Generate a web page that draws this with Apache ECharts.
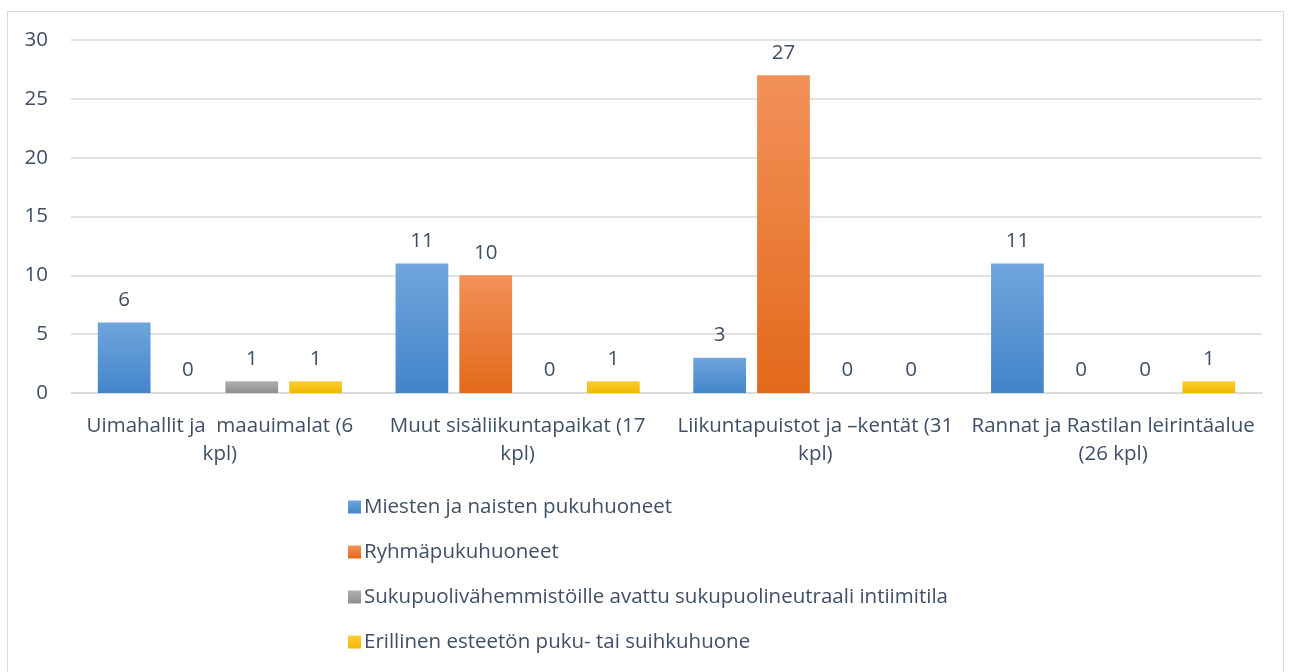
<!DOCTYPE html>
<html>
<head>
<meta charset="utf-8">
<script src="https://cdn.jsdelivr.net/npm/echarts@6/dist/echarts.min.js"></script>
<style>
  html, body { margin: 0; padding: 0; background: #fff; }
  #frame { position: absolute; left: 7px; top: 11px; width: 1277px; height: 670px; border: 1px solid #d9d9d9; box-sizing: border-box; }
  #chart { position: absolute; left: 0; top: 0; width: 1291px; height: 672px; }
</style>
</head>
<body>
<div id="frame"></div>
<div id="chart"></div>
<script>
const categories = [
  'Uimahallit ja  maauimalat (6\nkpl)',
  'Muut sisäliikuntapaikat (17\nkpl)',
  'Liikuntapuistot ja –kentät (31\nkpl)',
  'Rannat ja Rastilan leirintäalue\n(26 kpl)'
]
const seriesNames = [
  'Miesten ja naisten pukuhuoneet',
  'Ryhmäpukuhuoneet',
  'Sukupuolivähemmistöille avattu sukupuolineutraali intiimitila',
  'Erillinen esteetön puku- tai suihkuhuone'
]
const miesten = [6, 11, 3, 11]
const ryhma = [0, 10, 27, 0]
const sukupuoli = [1, 0, 0, 0]
const erillinen = [1, 1, 0, 1]
const yTicks = [0, 5, 10, 15, 20, 25, 30]

const textColor = '#3f4f66'
const font = '"Open Sans", sans-serif'
const fs = 20.5

function grad(top, bottom) {
  return new echarts.graphic.LinearGradient(0, 0, 0, 1, [
    { offset: 0, color: top },
    { offset: 1, color: bottom },
  ])
}

const colors = [
  grad('#70a5dd', '#4385c9'),
  grad('#f2915a', '#e2691a'),
  grad('#b0b0b0', '#8e8e8e'),
  grad('#ffcd38', '#f2b700'),
]

const values = [miesten, ryhma, sukupuoli, erillinen]

const chart = echarts.init(document.getElementById('chart'))

const option = {
  animation: false,
  textStyle: { fontFamily: font },
  grid: { left: 71, right: 29, top: 40, bottom: 279, containLabel: false },
  legend: {
    orient: 'vertical',
    left: 343,
    top: 490,
    height: 180,
    itemWidth: 13,
    itemHeight: 13,
    itemGap: 21,
    icon: 'rect',
    textStyle: { fontSize: fs, lineHeight: 24, color: textColor, fontFamily: font, padding: [0, 0, 0, -2] },
    data: seriesNames,
  },
  xAxis: {
    type: 'category',
    data: categories,
    axisLine: { lineStyle: { color: '#d9d9d9', width: 1.5 } },
    axisTick: { show: false },
    axisLabel: { interval: 0, color: textColor, fontSize: fs, lineHeight: 28, margin: 19, fontFamily: font },
  },
  yAxis: {
    type: 'value',
    min: 0,
    max: 30,
    interval: 5,
    axisLine: { show: false },
    axisTick: { show: false },
    splitLine: { lineStyle: { color: '#d9d9d9', width: 1.5 } },
    axisLabel: {
      color: textColor, fontSize: fs, margin: 23, fontFamily: font,
      formatter: v => yTicks.includes(v) ? String(v) : '',
    },
  },
  series: seriesNames.map((name, i) => ({
    name,
    type: 'bar',
    data: values[i],
    barGap: '21%',
    barCategoryGap: '18%',
    itemStyle: { color: colors[i] },
    label: { show: true, position: 'top', distance: 12, color: textColor, fontSize: fs, fontFamily: font },
  })),
}

chart.setOption(option)
</script>
</body>
</html>
